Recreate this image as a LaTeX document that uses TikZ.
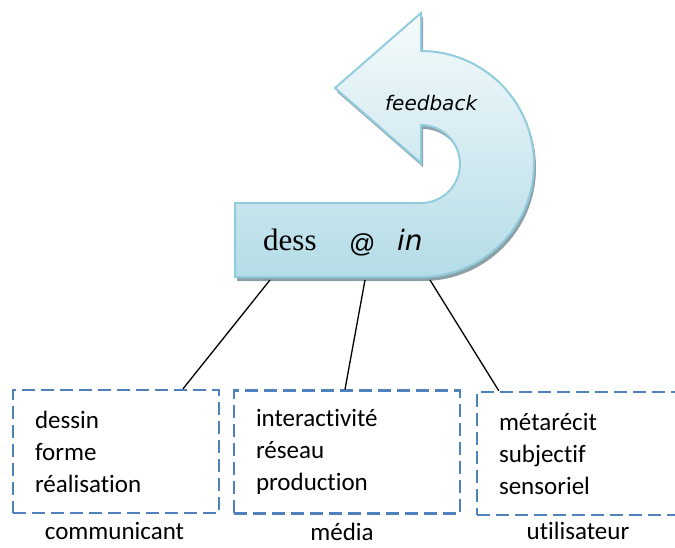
\documentclass[tikz,border=0pt]{standalone}
\usepackage{fontspec}
\setmainfont{Carlito}[Ligatures=CommonOff]
\newfontfamily\timesfont{Liberation Serif}
\newfontfamily\arialfont{Liberation Sans}
\newfontfamily\verdfont{DejaVu Sans}
\usetikzlibrary{shadows}
\definecolor{arrowtop}{RGB}{246,251,252}
\definecolor{arrowbot}{RGB}{180,220,231}
\definecolor{arrowline}{RGB}{146,204,220}
\definecolor{dashblue}{RGB}{79,129,189}
\definecolor{shadowgray}{RGB}{140,160,168}

\begin{document}
\begin{tikzpicture}[x=1pt, y=-1pt,
    dashbox/.style={draw=dashblue, line width=2.4pt, dash pattern=on 13pt off 6pt, minimum height=123pt, inner xsep=22pt, align=left, font=\fontsize{25}{32}\selectfont},
    caption/.style={anchor=base, font=\fontsize{25}{30}\selectfont},
    link/.style={line width=1.3pt}
  ]
    \useasboundingbox (0,0) rectangle (675,547);
    \clip (0,0) rectangle (675,547);

    % --- TOP: curved feedback arrow ---
    \path[top color=arrowtop, bottom color=arrowbot, draw=arrowline, line width=2pt,
      drop shadow={shadow xshift=2pt, shadow yshift=-4pt, fill=shadowgray, opacity=1}]
      (235,277) -- (421,277) arc[start angle=-90, end angle=90, radius=113pt]
      -- (421,13) -- (335,88) -- (421,163) -- (421,125)
      arc[start angle=90, end angle=-90, radius=39pt] -- (235,203) -- cycle;

    \node[anchor=base west, inner sep=0, font=\timesfont\fontsize{31}{31}\selectfont] (dess) at (263,250) {dess};
    \node[anchor=base west, inner sep=0, font=\arialfont\fontsize{26}{26}\selectfont] (at) at (349,252) {@};
    \node[anchor=base west, inner sep=0, font=\verdfont\itshape\fontsize{28}{28}\selectfont] (in) at (397,250) {in};
    \node[anchor=base west, inner sep=0, font=\verdfont\itshape\fontsize{20}{20}\selectfont] (fb) at (385,110) {feedback};

    % anchor points on the lower edge
    \coordinate (p1) at (270,280);
    \coordinate (p2) at (365,280);
    \coordinate (p3) at (430,280);

    % --- BOTTOM: three dashed boxes ---
    \node[dashbox, text width=162pt] (com) at (116,451.5) {dessin\\forme\\réalisation};
    \node[dashbox, text width=182pt] (med) at (347,452) {interactivité\\réseau\\production};
    \node[dashbox, text width=169pt] (uti) at (583.5,453.5) {métarécit\\subjectif\\sensoriel};

    \node[caption] (lcom) at (114.5,539) {communicant};
    \node[caption] (lmed) at (342,540) {média};
    \node[caption] (luti) at (578,539) {utilisateur};

    % links
    \draw[link] (p1) -- ([xshift=67pt]com.north);
    \draw[link] (p2) -- ([xshift=-2pt]med.north);
    \draw[link] (p3) -- ([xshift=23pt]uti.north west);
  \end{tikzpicture}
\end{document}
